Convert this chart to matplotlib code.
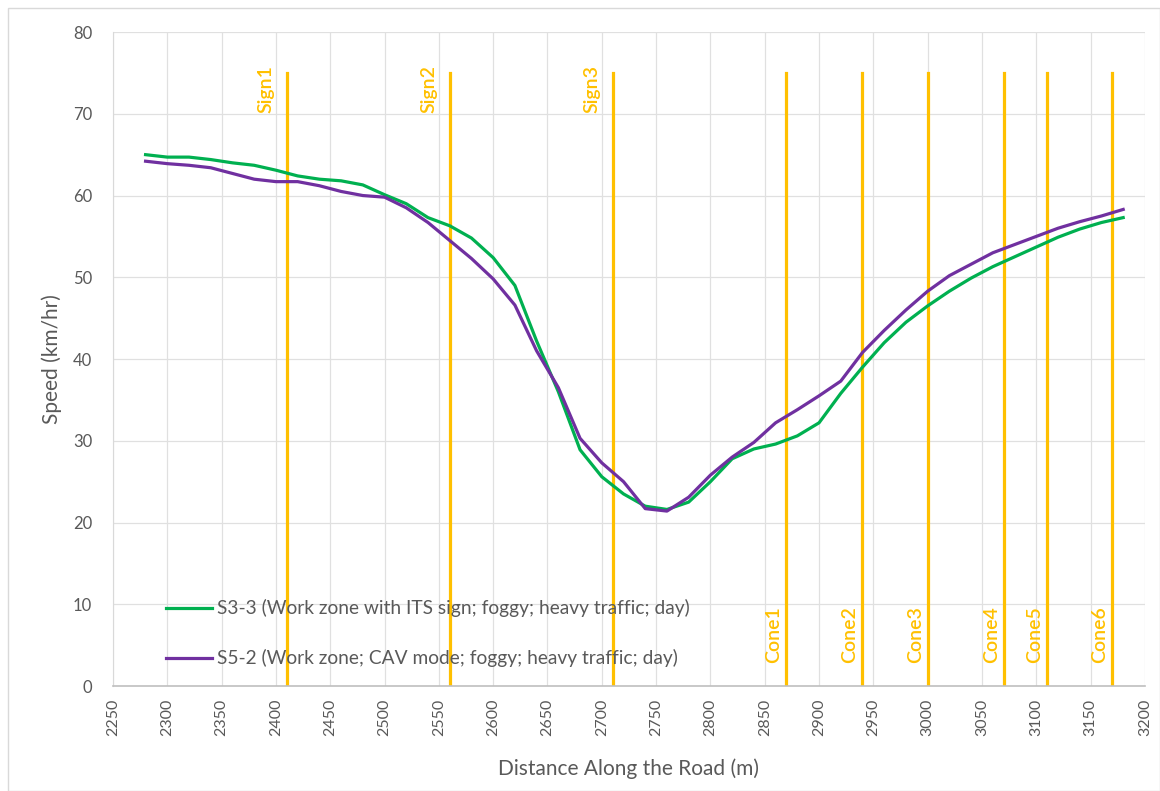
import matplotlib
matplotlib.use("Agg")
import matplotlib.pyplot as plt
from matplotlib.patches import Rectangle

# distance along the road (m), sampled every 20 m
distance = list(range(2280, 3200, 20))

speed_s33 = [65.0, 64.7, 64.7, 64.4, 64.0, 63.7, 63.1, 62.4, 62.0, 61.8,
             61.3, 60.1, 59.0, 57.3, 56.3, 54.8, 52.4, 49.0, 42.2, 36.0,
             28.9, 25.6, 23.5, 22.0, 21.6, 22.5, 25.0, 27.8, 29.0, 29.6,
             30.6, 32.2, 35.8, 39.0, 42.0, 44.5, 46.5, 48.3, 49.9, 51.3,
             52.5, 53.7, 54.9, 55.9, 56.7, 57.3]
speed_s52 = [64.2, 63.9, 63.7, 63.4, 62.7, 62.0, 61.7, 61.7, 61.2, 60.5,
             60.0, 59.8, 58.5, 56.7, 54.5, 52.3, 49.8, 46.6, 41.0, 36.5,
             30.3, 27.3, 25.0, 21.7, 21.4, 23.1, 25.8, 28.0, 29.8, 32.2,
             33.8, 35.5, 37.3, 40.8, 43.5, 46.0, 48.3, 50.2, 51.6, 53.0,
             54.0, 55.0, 56.0, 56.8, 57.5, 58.3]

label_s33 = "S3-3 (Work zone with ITS sign; foggy; heavy traffic; day)"
label_s52 = "S5-2 (Work zone; CAV mode; foggy; heavy traffic; day)"

sign_names = ["Sign1", "Sign2", "Sign3"]
sign_pos = [2410, 2560, 2710]
cone_names = ["Cone1", "Cone2", "Cone3", "Cone4", "Cone5", "Cone6"]
cone_pos = [2870, 2940, 3000, 3070, 3110, 3170]
marker_top = 75

GREEN = "#00B050"
PURPLE = "#7030A0"
GOLD = "#FFC000"
GREY = "#595959"

plt.rcParams["font.family"] = ["Lato", "DejaVu Sans"]

fig = plt.figure(figsize=(11.6, 7.91), dpi=100)
ax = fig.add_axes([0.0974, 0.1327, 0.8896, 0.8268])

# chart border
fig.patches.append(Rectangle((0.007, 0.0), 0.993, 0.99, transform=fig.transFigure,
                             fill=False, edgecolor="#d9d9d9", linewidth=1.0))

for x in sign_pos + cone_pos:
    ax.plot([x, x], [0, marker_top], color=GOLD, linewidth=2.3, zorder=2)

for name, x in zip(sign_names, sign_pos):
    ax.annotate(name, (x, marker_top), xytext=(-12, 8), textcoords="offset pixels",
                rotation=90, ha="right", va="top", color=GOLD, fontsize=14,
                fontweight="semibold")
for name, x in zip(cone_names, cone_pos):
    ax.annotate(name, (x, 2.8), xytext=(-4, 0), textcoords="offset pixels",
                rotation=90, ha="right", va="bottom", color=GOLD, fontsize=14,
                fontweight="semibold")

ax.plot(distance, speed_s33, color=GREEN, linewidth=2.3, label=label_s33, zorder=3)
ax.plot(distance, speed_s52, color=PURPLE, linewidth=2.3, label=label_s52, zorder=3)

ax.set_xlim(2250, 3200)
ax.set_ylim(0, 80)
ax.set_xticks(range(2250, 3201, 50))
ax.set_yticks(range(0, 81, 10))
ax.tick_params(axis="x", rotation=90, labelsize=11.5, colors=GREY, length=0, pad=9)
ax.tick_params(axis="y", labelsize=12, colors=GREY, length=0, pad=15)
ax.grid(True, color="#e0e0e0", linewidth=0.9)
ax.set_axisbelow(True)

for side in ["top", "right"]:
    ax.spines[side].set_visible(False)
ax.spines["left"].set_color("#d9d9d9")
ax.spines["bottom"].set_color("#bfbfbf")
ax.spines["bottom"].set_linewidth(1.2)

ax.set_xlabel("Distance Along the Road (m)", fontsize=15, color=GREY)
ax.set_ylabel("Speed (km/hr)", fontsize=15, color=GREY)
ax.xaxis.set_label_coords(0.5, -0.110)
ax.yaxis.set_label_coords(-0.049, 0.5)

ax.legend(loc="lower left", bbox_to_anchor=(0.035, 0.002), frameon=False,
          fontsize=13.8, labelcolor=GREY, labelspacing=1.68, handlelength=2.4,
          handletextpad=0.25)

fig.savefig("out.png", dpi=100)
